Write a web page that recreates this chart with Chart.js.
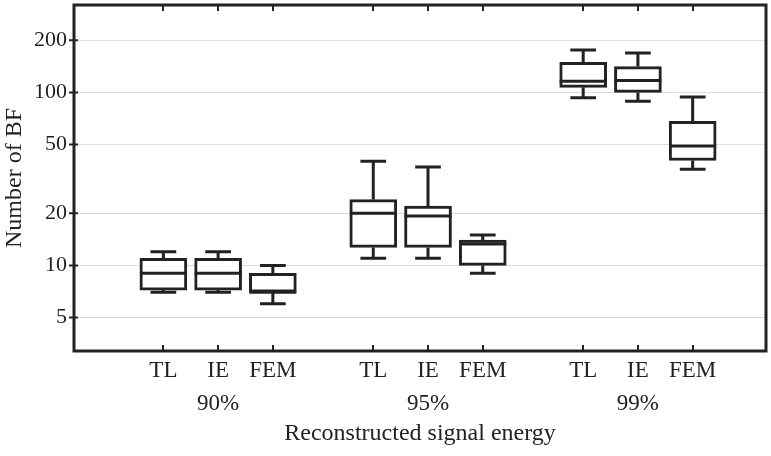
<!DOCTYPE html>
<html><head><meta charset="utf-8">
<script src="https://cdn.jsdelivr.net/npm/chart.js@4.4.1/dist/chart.umd.min.js"></script>
<style>html,body{margin:0;padding:0;background:#fff}#wrap{width:771px;height:456px}</style>
</head><body><div id="wrap"><canvas id="c" width="771" height="456"></canvas></div>
<script>
// ---- data ----
const groups = ['90%', '95%', '99%'];
const methods = ['TL', 'IE', 'FEM'];
const whiskerLow  = [7,   7,   6,   11,   11,   9,    93,  89,  36];
const q1          = [7.2, 7.2, 7,   12.7, 12.7, 10,   107, 100, 40.4];
const median      = [9,   9,   7,   20,   19.3, 13.3, 116, 117, 49];
const q3          = [11,  11,  9,   24,   22,   14,   149, 141, 68];
const whiskerHigh = [12,  12,  10,  40,   37,   15,   176, 169, 94];
const yTicks = [5, 10, 20, 50, 100, 200];

// ---- layout ----
const INK = '#222';
const FONT = "'Liberation Serif', 'Times New Roman', serif";
const GROUP_STEP = 3.835;
const X_MIN = -0.633, X_MAX = 12.01;
const BOX_PX = 47, CAP_UNITS = 0.235;
const pos = i => 1 + Math.floor(i / 3) * GROUP_STEP + (i % 3);
const positions = q1.map((_, i) => pos(i));
const boxData = q1.map((v, i) => ({ x: pos(i), y: [v, q3[i]] }));

const boxPlugin = {
  id: 'boxplot',
  beforeDatasetsDraw(chart) {
    const { ctx, scales: { x: xs, y: ys } } = chart;
    ctx.save();
    ctx.strokeStyle = INK; ctx.lineWidth = 3; ctx.lineCap = 'butt';
    positions.forEach((p, i) => {
      const x = xs.getPixelForValue(p);
      const cap = xs.getPixelForValue(p + CAP_UNITS) - x;
      const yHi = ys.getPixelForValue(whiskerHigh[i]);
      const yQ3 = ys.getPixelForValue(q3[i]);
      const yLo = ys.getPixelForValue(whiskerLow[i]);
      const yQ1 = ys.getPixelForValue(q1[i]);
      ctx.beginPath();
      ctx.moveTo(x, yQ3); ctx.lineTo(x, yHi);
      ctx.moveTo(x - cap, yHi); ctx.lineTo(x + cap, yHi);
      ctx.moveTo(x, yQ1); ctx.lineTo(x, yLo);
      ctx.moveTo(x - cap, yLo); ctx.lineTo(x + cap, yLo);
      ctx.stroke();
    });
    ctx.restore();
  },
  afterDatasetsDraw(chart) {
    const { ctx, scales: { x: xs, y: ys } } = chart;
    ctx.save();
    ctx.strokeStyle = INK; ctx.lineWidth = 3;
    positions.forEach((p, i) => {
      const x = xs.getPixelForValue(p);
      const y = ys.getPixelForValue(median[i]);
      ctx.beginPath();
      ctx.moveTo(x - BOX_PX / 2, y); ctx.lineTo(x + BOX_PX / 2, y);
      ctx.stroke();
    });
    ctx.restore();
  },
  afterDraw(chart) {
    const { ctx, chartArea: a, scales: { x: xs, y: ys } } = chart;
    ctx.save();
    ctx.strokeStyle = INK;
    ctx.lineWidth = 2;
    ctx.beginPath();
    positions.forEach(p => {
      const x = Math.round(xs.getPixelForValue(p));
      ctx.moveTo(x, a.top); ctx.lineTo(x, a.top + 6);
      ctx.moveTo(x, a.bottom); ctx.lineTo(x, a.bottom - 6);
    });
    yTicks.forEach(v => {
      const y = ys.getPixelForValue(v);
      ctx.moveTo(a.left - 5, y); ctx.lineTo(a.left + 4, y);
    });
    ctx.stroke();
    ctx.lineWidth = 3;
    ctx.strokeRect(a.left, a.top, a.right - a.left, a.bottom - a.top);
    ctx.restore();
  }
};

new Chart(document.getElementById('c'), {
  type: 'bar',
  data: {
    datasets: [{
      data: boxData,
      backgroundColor: '#ffffff',
      borderColor: INK,
      borderWidth: 3,
      borderSkipped: false,
      barThickness: BOX_PX
    }]
  },
  options: {
    responsive: false,
    animation: false,
    devicePixelRatio: 1,
    layout: { padding: { top: 5, right: 5, left: 0, bottom: 0 } },
    plugins: { legend: { display: false }, tooltip: { enabled: false } },
    scales: {
      x: {
        type: 'linear',
        offset: false,
        min: X_MIN, max: X_MAX,
        afterBuildTicks: s => { s.ticks = positions.map(v => ({ value: v })); },
        afterFit: s => { s.height = 105; s.paddingLeft = 0; s.paddingRight = 0; },
        grid: { display: false, offset: false },
        border: { display: false },
        ticks: {
          autoSkip: false, maxRotation: 0, minRotation: 0,
          color: INK, padding: -5,
          font: { family: FONT, size: 23, lineHeight: 1.45 },
          callback: (v, idx) => idx % 3 === 1 ? [methods[1], groups[Math.floor(idx / 3)]] : [methods[idx % 3], '']
        },
        title: {
          display: true, text: 'Reconstructed signal energy', color: INK,
          font: { family: FONT, size: 24 }, padding: { top: 2, bottom: 8 }
        }
      },
      y: {
        type: 'logarithmic',
        min: 3.2, max: 320,
        afterBuildTicks: s => { s.ticks = yTicks.map(v => ({ value: v })); },
        afterFit: s => { s.width = 74; s.paddingTop = 0; s.paddingBottom = 0; },
        grid: { color: '#dcdcdc', lineWidth: 1, drawTicks: false },
        border: { display: false },
        ticks: {
          color: INK, padding: 7,
          font: { family: FONT, size: 22 },
          callback: v => String(v)
        },
        title: {
          display: true, text: 'Number of BF', color: INK,
          font: { family: FONT, size: 24 }, padding: { top: 0, bottom: 0 }
        }
      }
    }
  },
  plugins: [boxPlugin]
});
</script></body></html>
